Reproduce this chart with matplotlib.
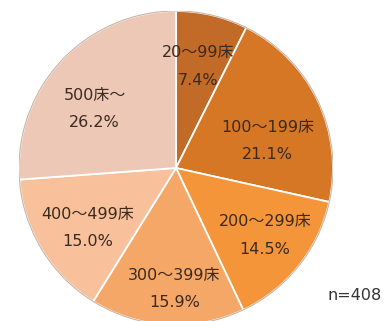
import matplotlib

matplotlib.use("Agg")

import numpy as np  # noqa: E402
import matplotlib.pyplot as plt  # noqa: E402

plt.rcParams["font.family"] = ["DejaVu Sans", "Noto Sans CJK JP"]

# bed-count bands, clockwise from 12 o'clock
categories = ["20～99床", "100～199床", "200～299床", "300～399床", "400～499床", "500床～"]
shares = [7.4, 21.1, 14.5, 15.9, 15.0, 26.2]
n_total = 408

_COLORS = ["#C26A27", "#D67726", "#F5953A", "#F5A767", "#F8C19C", "#EDC8B6"]
_TEXT = "#3B2A1E"

# label placement per slice: distance from center (fraction of radius), angle nudge (deg)
_LABEL_DIST = [0.66, 0.61, 0.71, 0.77, 0.68, 0.64]
_LABEL_NUDGE = [1.0, -9.0, 1.5, 2.5, 3.0, 7.0]

W, H, DPI = 390, 321, 100
cx, cy, r = 176, 168, 157  # pie center / radius in pixels

fig = plt.figure(figsize=(W / DPI, H / DPI), dpi=DPI)
ax = fig.add_axes([(cx - r) / W, (H - cy - r) / H, 2 * r / W, 2 * r / H])

wedges, _ = ax.pie(
    shares,
    colors=_COLORS,
    startangle=90,
    counterclock=False,
    radius=1.0,
    wedgeprops={"edgecolor": "white", "linewidth": 1.3},
)
# faint rim around the whole pie
ax.add_patch(plt.Circle((0, 0), 1.0, facecolor="none", edgecolor="#C9B4A6", linewidth=0.8))

# two-line label inside each slice: band name, then share
for w, name, val, d, nudge in zip(wedges, categories, shares, _LABEL_DIST, _LABEL_NUDGE):
    ang = np.deg2rad((w.theta1 + w.theta2) / 2 + nudge)
    x, y = d * np.cos(ang), d * np.sin(ang)
    ax.text(x, y + 0.088, name, ha="center", va="center", fontsize=11.5, color=_TEXT)
    ax.text(x, y - 0.088, f"{val:.1f}%", ha="center", va="center", fontsize=11.5, color=_TEXT)

ax.set_xlim(-1, 1)
ax.set_ylim(-1, 1)
ax.set_aspect("equal")
ax.axis("off")

fig.text(355 / W, 1 - 296 / H, f"n={n_total}", ha="center", va="center", fontsize=11.5, color="#333333")

fig.savefig("out.png", dpi=DPI)
plt.close(fig)
